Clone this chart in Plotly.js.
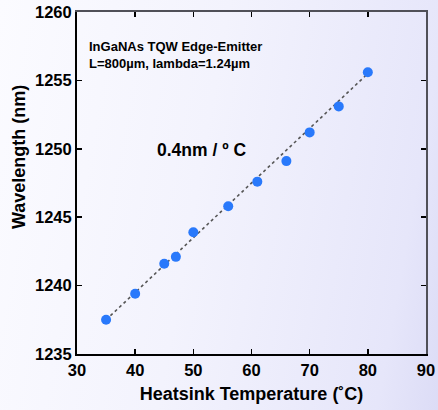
<!DOCTYPE html>
<html>
<head>
<meta charset="utf-8">
<script src="https://cdn.plot.ly/plotly-3.0.1.min.js"></script>
<style>
  html, body { margin: 0; padding: 0; }
  #chart {
    width: 438px; height: 410px;
    background: linear-gradient(100deg, #fbfbff 0%, #f3f3fd 45%, #e6e6fa 88%, #dcdcf6 100%);
  }
</style>
</head>
<body>
<div id="chart"></div>
<script>
// Lasing wavelength versus heatsink temperature
const temperature = [35, 40, 45, 47, 50, 56, 61, 66, 70, 75, 80];
const wavelength = [1237.5, 1239.4, 1241.6, 1242.1, 1243.9, 1245.8, 1247.6, 1249.1, 1251.2, 1253.1, 1255.6];

// Linear fit: 0.4 nm per degree C
const slope = 0.4;
const fitStart = [35, 1237.5];
const fitX = [35, 80];
const fitY = fitX.map(t => fitStart[1] + slope * (t - fitStart[0]));

const xTicks = [30, 40, 50, 60, 70, 80, 90];
const yTicks = [1235, 1240, 1245, 1250, 1255, 1260];

const FONT = 'Arial, "Liberation Sans", sans-serif';

const traces = [
  {
    x: fitX, y: fitY, type: 'scatter', mode: 'lines',
    line: { color: '#555555', width: 1.6, dash: 'dot' },
    hoverinfo: 'skip'
  },
  {
    x: temperature, y: wavelength, type: 'scatter', mode: 'markers',
    marker: { color: '#2979fb', size: 10 }
  }
];

const layout = {
  width: 438, height: 410,
  margin: { l: 77, r: 12, t: 12, b: 56 },
  paper_bgcolor: 'rgba(0,0,0,0)',
  plot_bgcolor: 'rgba(0,0,0,0)',
  showlegend: false,
  font: { family: FONT, color: '#000' },
  xaxis: {
    range: [30, 90], tickvals: xTicks, ticktext: xTicks.map(String),
    showgrid: false, zeroline: false,
    showline: true, linecolor: '#000', linewidth: 2,
    ticks: 'inside', ticklen: 5, tickwidth: 1.5, tickcolor: '#000',
    tickfont: { size: 16.5, family: FONT, weight: 'bold' },
    title: { text: '<b>Heatsink Temperature (˚C)</b>', font: { size: 18, family: FONT }, standoff: 10 }
  },
  yaxis: {
    range: [1235, 1260], tickvals: yTicks, ticktext: yTicks.map(String),
    showgrid: false, zeroline: false,
    showline: true, linecolor: '#000', linewidth: 2,
    ticks: 'inside', ticklen: 5, tickwidth: 1.5, tickcolor: '#000',
    tickfont: { size: 16.5, family: FONT, weight: 'bold' }
  },
  xaxis2: {
    overlaying: 'x', side: 'top', matches: 'x', range: [30, 90], tickvals: xTicks,
    showticklabels: false, showgrid: false, zeroline: false,
    showline: true, linecolor: '#505058', linewidth: 2,
    ticks: 'inside', ticklen: 5, tickwidth: 1.5, tickcolor: '#000'
  },
  yaxis2: {
    overlaying: 'y', side: 'right', range: [1235, 1260], tickvals: yTicks,
    showticklabels: false, showgrid: false, zeroline: false,
    showline: true, linecolor: '#505058', linewidth: 2,
    ticks: 'inside', ticklen: 5, tickwidth: 1.5, tickcolor: '#000'
  },
  annotations: [
    {
      xref: 'paper', yref: 'paper', x: (19 - 77) / 349, y: 0.5 + (183 - 157) / 342,
      text: '<b>Wavelength (nm)</b>', textangle: -90, showarrow: false,
      font: { size: 18, family: FONT }, xanchor: 'center', yanchor: 'middle'
    },
    {
      xref: 'paper', yref: 'paper', x: 10 / 349, y: 1 - 25 / 342,
      xanchor: 'left', yanchor: 'top', align: 'left', showarrow: false,
      text: '<b>InGaNAs TQW Edge-Emitter<br>L=800µm, lambda=1.24µm</b>',
      font: { size: 13, family: FONT }
    },
    {
      xref: 'paper', yref: 'paper', x: 78 / 349, y: 1 - 138 / 342,
      xanchor: 'left', yanchor: 'middle', showarrow: false,
      text: '<b>' + slope + 'nm / º C</b>',
      font: { size: 17.5, family: FONT }
    }
  ]
};

// top/right frame axes need a dummy trace to be drawn
traces.push({ x: [null], y: [null], xaxis: 'x2', yaxis: 'y2', type: 'scatter', mode: 'markers', hoverinfo: 'skip' });

Plotly.newPlot('chart', traces, layout, { displayModeBar: false, staticPlot: true });
</script>
</body>
</html>
